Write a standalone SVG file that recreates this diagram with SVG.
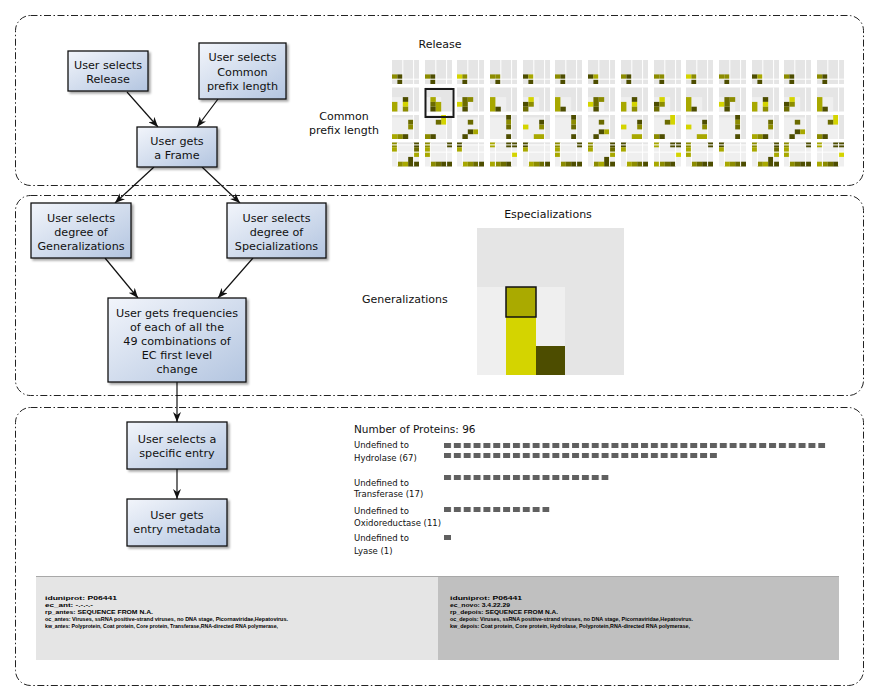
<svg xmlns="http://www.w3.org/2000/svg" xmlns:xlink="http://www.w3.org/1999/xlink" width="879" height="700" viewBox="0 0 879 700">
<style>
.frame{fill:none;stroke:#222;stroke-width:1;stroke-dasharray:7 2.5 1.5 2.5}
.node rect{fill:url(#ng);stroke:#111;stroke-width:1.3;filter:url(#sh)}
.node text{font-family:"DejaVu Sans",sans-serif;font-size:11.2px;fill:#111;text-anchor:middle}
.lbl{font-family:"DejaVu Sans",sans-serif;font-size:11px;fill:#111}
.sm{font-family:"DejaVu Sans",sans-serif;font-size:8.5px;fill:#111}
.meta{font-family:"Liberation Sans",sans-serif;font-size:6px;font-weight:bold;fill:#000}
.conn path{fill:none;stroke:#111;stroke-width:1.2;marker-end:url(#ah)}
.Y{fill:#d4d400}.O{fill:#a8a800}.M{fill:#8c8c00}.D{fill:#4d4d00}.E{fill:#6b6b00}
.wl{stroke:#fff;stroke-width:1;fill:none}
</style>
<defs>
<linearGradient id="ng" x1="0" y1="0" x2="1" y2="1">
<stop offset="0" stop-color="#f2f5fb"/><stop offset="1" stop-color="#b3c5e0"/>
</linearGradient>
<filter id="sh" x="-10%" y="-10%" width="130%" height="130%">
<feDropShadow dx="2" dy="2" stdDeviation="1.2" flood-color="#000" flood-opacity="0.35"/>
</filter>
<marker id="ah" viewBox="0 0 10 8" refX="10" refY="4" markerWidth="10" markerHeight="8" markerUnits="userSpaceOnUse" orient="auto">
<path d="M0,0 L10,4 L0,8 L3,4 z" fill="#111"/>
</marker>
<pattern id="sq" x="444" y="0" width="9.85" height="700" patternUnits="userSpaceOnUse">
<rect width="7" height="700" fill="#606060"/>
</pattern>
<g id="bA"><rect width="27" height="24" fill="#e5e5e5"/></g>
<path id="lA" class="wl" d="M10.8,0V24M21.6,0V24M0,19.2H27"/>
<g id="bB"><rect width="27" height="24" fill="#e5e5e5"/><rect y="9.6" width="16.2" height="14.4" fill="#efefef"/></g>
<path id="lB" class="wl" d="M21.6,0V24"/>
<g id="bC"><rect width="27" height="24" fill="#efefef"/><rect width="27" height="2.4" fill="#e5e5e5"/><rect x="21.6" width="5.4" height="24" fill="#e5e5e5"/></g>
<path id="lC" class="wl" d="M21.6,0V24"/>
<g id="bD"><rect width="27" height="24" fill="#efefef"/><rect width="27" height="2.4" fill="#e5e5e5"/></g>
<path id="lD" class="wl" d="M0,2.4H27M0,9.6H27M5.4,0V24M21.6,0V24"/>

<g id="a1"><use href="#bA"/><g transform="scale(5.4 4.8)"><rect class="M" x="0" y="3" width="1" height="1"/><rect class="D" x="1" y="3" width="1" height="1"/><rect class="D" x="1" y="4" width="1" height="1"/></g><use href="#lA"/></g>
<g id="a2"><use href="#bA"/><g transform="scale(5.4 4.8)"><rect class="D" x="0" y="3" width="1" height="1"/><rect class="O" x="1" y="3" width="1" height="1"/><rect class="D" x="1" y="4" width="1" height="1"/></g><use href="#lA"/></g>
<g id="a3"><use href="#bA"/><g transform="scale(5.4 4.8)"><rect class="Y" x="0" y="3" width="1" height="1"/><rect class="M" x="1" y="3" width="1" height="1"/><rect class="D" x="1" y="4" width="1" height="1"/></g><use href="#lA"/></g>
<g id="a4"><use href="#bA"/><g transform="scale(5.4 4.8)"><rect class="M" x="0" y="3" width="1" height="1"/><rect class="M" x="1" y="3" width="1" height="1"/><rect class="D" x="1" y="4" width="1" height="1"/></g><use href="#lA"/></g>

<g id="b1"><use href="#bB"/><g transform="scale(5.4 4.8)"><rect class="O" x="0" y="3" width="1" height="2"/><rect class="D" x="2" y="2" width="1" height="1"/><rect class="Y" x="2" y="3" width="1" height="1"/><rect class="M" x="2" y="4" width="1" height="1"/></g><use href="#lB"/></g>
<g id="b2"><use href="#bB"/><g transform="scale(5.4 4.8)"><rect class="O" x="1" y="2" width="1" height="1"/><rect class="E" x="1" y="3" width="1" height="1"/><rect class="D" x="1" y="4" width="1" height="1"/><rect class="O" x="2" y="3" width="1" height="2"/></g></g>
<g id="b3"><use href="#bB"/><g transform="scale(5.4 4.8)"><rect class="D" x="0" y="3" width="1" height="1"/><rect class="E" x="0" y="4" width="1" height="1"/><rect class="Y" x="1" y="2" width="1" height="1"/><rect class="M" x="1" y="3" width="1" height="1"/></g><use href="#lB"/></g>
<g id="b4"><use href="#bB"/><g transform="scale(5.4 4.8)"><rect class="O" x="0" y="2" width="1" height="3"/><rect class="D" x="1" y="4" width="1" height="1"/></g><use href="#lB"/></g>
<g id="b5"><use href="#bB"/><g transform="scale(5.4 4.8)"><rect class="Y" x="0" y="3" width="1" height="1"/><rect class="E" x="1" y="2" width="1" height="2"/><rect class="D" x="1" y="4" width="1" height="1"/><rect class="M" x="2" y="2" width="1" height="1"/></g><use href="#lB"/></g>

<g id="c1"><use href="#bC"/><g transform="scale(5.4 4.8)"><rect class="E" x="3" y="1" width="1" height="1"/><rect class="M" x="3" y="2" width="1" height="1"/><rect class="O" x="0" y="4" width="1" height="1"/><rect class="M" x="1" y="4" width="1" height="1"/><rect class="D" x="2" y="4" width="1" height="1"/></g><use href="#lC"/></g>
<g id="c2"><use href="#bC"/><g transform="scale(5.4 4.8)"><rect class="Y" x="3" y="0" width="1" height="2"/><rect class="E" x="2" y="1" width="1" height="1"/><rect class="M" x="0" y="4" width="1" height="1"/><rect class="D" x="1" y="4" width="1" height="1"/></g><use href="#lC"/></g>
<g id="c3"><use href="#bC"/><g transform="scale(5.4 4.8)"><rect class="E" x="2" y="1" width="1" height="1"/><rect class="D" x="2" y="3" width="1" height="1"/><rect class="O" x="3" y="3" width="1" height="1"/><rect class="D" x="1" y="4" width="1" height="1"/></g><use href="#lC"/></g>
<g id="c4"><use href="#bC"/><g transform="scale(5.4 4.8)"><rect class="D" x="3" y="0" width="1" height="1"/><rect class="M" x="3" y="1" width="1" height="1"/><rect class="E" x="3" y="2" width="1" height="1"/><rect class="D" x="3" y="4" width="1" height="1"/></g><use href="#lC"/></g>
<g id="c5"><use href="#bC"/><g transform="scale(5.4 4.8)"><rect class="Y" x="0" y="2" width="1" height="1"/><rect class="D" x="3" y="1" width="1" height="1"/><rect class="M" x="3" y="2" width="1" height="1"/><rect class="O" x="2" y="4" width="2" height="1"/></g><use href="#lC"/></g>

<g id="d1"><use href="#bD"/><g transform="scale(5.4 4.8)"><rect class="M" x="0" y="0" width="1" height="1"/><rect class="O" x="0" y="1" width="1" height="1"/><rect class="D" x="4" y="0" width="1" height="1"/><rect class="E" x="4" y="1" width="1" height="1"/><rect class="O" x="4" y="2" width="1" height="1"/><rect class="M" x="1" y="4" width="1" height="1"/><rect class="O" x="2" y="4" width="1" height="1"/><rect class="D" x="3" y="3" width="1" height="2"/><rect class="D" x="4" y="4" width="1" height="1"/></g><use href="#lD"/></g>
<g id="d2"><use href="#bD"/><g transform="scale(5.4 4.8)"><rect class="M" x="0" y="0" width="1" height="1"/><rect class="O" x="0" y="1" width="1" height="2"/><rect class="D" x="4" y="0" width="1" height="1"/><rect class="M" x="1" y="4" width="1" height="1"/><rect class="E" x="2" y="4" width="1" height="1"/><rect class="D" x="3" y="4" width="2" height="1"/></g><use href="#lD"/></g>
<g id="d3"><use href="#bD"/><g transform="scale(5.4 4.8)"><rect class="D" x="0" y="0" width="1" height="1"/><rect class="O" x="0" y="1" width="1" height="1"/><rect class="O" x="1" y="4" width="1" height="1"/><rect class="M" x="2" y="4" width="1" height="1"/><rect class="E" x="3" y="4" width="1" height="1"/><rect class="D" x="4" y="4" width="1" height="1"/></g><use href="#lD"/></g>
<g id="d4"><use href="#bD"/><g transform="scale(5.4 4.8)"><rect class="O" x="0" y="0" width="1" height="1"/><rect class="D" x="3" y="0" width="2" height="1"/><rect class="Y" x="4" y="2" width="1" height="1"/><rect class="O" x="0" y="4" width="1" height="1"/><rect class="M" x="1" y="4" width="1" height="1"/><rect class="E" x="2" y="4" width="1" height="1"/><rect class="D" x="3" y="4" width="1" height="1"/></g><use href="#lD"/></g>
</defs>

<rect width="879" height="700" fill="#fff"/>

<g id="frames">
<rect class="frame" x="15.5" y="15.5" width="848" height="170" rx="15"/>
<rect class="frame" x="15.5" y="195.5" width="848" height="200" rx="15"/>
<rect class="frame" x="15.5" y="407.5" width="848" height="278" rx="15"/>
</g>

<g id="connectors" class="conn">
<path d="M127,92 L158,127"/>
<path d="M218,99 L197,127"/>
<path d="M154,167 L115,203"/>
<path d="M202,167 L240,203"/>
<path d="M105,258 L138,298"/>
<path d="M253,258 L218,298"/>
<path d="M177,382 L177,422"/>
<path d="M177,469 L177,499"/>
</g>

<g id="n-release" class="node"><rect x="68" y="51" width="80" height="40"/><text x="108" y="69">User selects</text><text x="108" y="83">Release</text></g>
<g id="n-prefix" class="node"><rect x="199" y="43" width="87" height="56"/><text x="242.5" y="61">User selects</text><text x="242.5" y="75.5">Common</text><text x="242.5" y="90">prefix length</text></g>
<g id="n-frame" class="node"><rect x="137" y="127" width="80" height="40"/><text x="177" y="145">User gets</text><text x="177" y="159">a Frame</text></g>
<g id="n-gen" class="node"><rect x="31" y="203" width="100" height="55"/><text x="81" y="222">User selects</text><text x="81" y="236">degree of</text><text x="81" y="250">Generalizations</text></g>
<g id="n-spec" class="node"><rect x="227" y="203" width="99" height="55"/><text x="276.5" y="222">User selects</text><text x="276.5" y="236">degree of</text><text x="276.5" y="250">Specializations</text></g>
<g id="n-freq" class="node"><rect x="108" y="298" width="138" height="84"/><text x="177" y="317">User gets frequencies</text><text x="177" y="331">of each of all the</text><text x="177" y="345">49 combinations of</text><text x="177" y="359">EC first level</text><text x="177" y="373">change</text></g>
<g id="n-entry" class="node"><rect x="127" y="422" width="100" height="47"/><text x="177" y="443">User selects a</text><text x="177" y="457">specific entry</text></g>
<g id="n-meta" class="node"><rect x="127" y="499" width="100" height="47"/><text x="177" y="519">User gets</text><text x="177" y="533">entry metadata</text></g>

<g id="release-grid">
<text class="lbl" x="440" y="48" text-anchor="middle">Release</text>
<text class="lbl" x="344" y="120" text-anchor="middle">Common</text>
<text class="lbl" x="344" y="134" text-anchor="middle">prefix length</text>
<use href="#a1" x="392" y="60"/><use href="#a1" x="425" y="60"/><use href="#a3" x="457" y="60"/><use href="#a4" x="490" y="60"/><use href="#a2" x="523" y="60"/><use href="#a1" x="555" y="60"/><use href="#a2" x="588" y="60"/><use href="#a1" x="621" y="60"/><use href="#a4" x="654" y="60"/><use href="#a3" x="686" y="60"/><use href="#a4" x="719" y="60"/><use href="#a2" x="752" y="60"/><use href="#a1" x="784" y="60"/><use href="#a1" x="817" y="60"/>
<use href="#b1" x="392" y="87.5"/><use href="#b2" x="425" y="87.5"/><use href="#b5" x="457" y="87.5"/><use href="#b4" x="490" y="87.5"/><use href="#b3" x="523" y="87.5"/><use href="#b4" x="555" y="87.5"/><use href="#b5" x="588" y="87.5"/><use href="#b1" x="621" y="87.5"/><use href="#b3" x="654" y="87.5"/><use href="#b4" x="686" y="87.5"/><use href="#b5" x="719" y="87.5"/><use href="#b1" x="752" y="87.5"/><use href="#b3" x="784" y="87.5"/><use href="#b4" x="817" y="87.5"/>
<use href="#c1" x="392" y="115"/><use href="#c2" x="425" y="115"/><use href="#c3" x="457" y="115"/><use href="#c4" x="490" y="115"/><use href="#c5" x="523" y="115"/><use href="#c4" x="555" y="115"/><use href="#c3" x="588" y="115"/><use href="#c5" x="621" y="115"/><use href="#c2" x="654" y="115"/><use href="#c5" x="686" y="115"/><use href="#c4" x="719" y="115"/><use href="#c1" x="752" y="115"/><use href="#c3" x="784" y="115"/><use href="#c2" x="817" y="115"/>
<use href="#d1" x="392" y="142.5"/><use href="#d2" x="425" y="142.5"/><use href="#d3" x="457" y="142.5"/><use href="#d4" x="490" y="142.5"/><use href="#d3" x="523" y="142.5"/><use href="#d2" x="555" y="142.5"/><use href="#d1" x="588" y="142.5"/><use href="#d3" x="621" y="142.5"/><use href="#d4" x="654" y="142.5"/><use href="#d2" x="686" y="142.5"/><use href="#d3" x="719" y="142.5"/><use href="#d1" x="752" y="142.5"/><use href="#d2" x="784" y="142.5"/><use href="#d4" x="817" y="142.5"/>
<rect x="425.5" y="89" width="28" height="28" fill="none" stroke="#1a1a1a" stroke-width="2"/>
</g>

<g id="frame-matrix">
<text class="lbl" x="548" y="218" text-anchor="middle">Especializations</text>
<text class="lbl" x="362" y="303">Generalizations</text>
<rect x="477" y="228" width="147" height="147" fill="#e5e5e5"/>
<rect x="477" y="287" width="88" height="88" fill="#efefef"/>
<rect x="506" y="317" width="30" height="58" fill="#d4d400"/>
<rect x="536" y="346" width="29" height="29" fill="#4d4d00"/>
<rect x="506" y="287" width="30" height="30" fill="#aaaa00" stroke="#111" stroke-width="1.5"/>
</g>

<g id="protein-chart">
<text x="354" y="433" font-family="DejaVu Sans, sans-serif" font-size="10.5" fill="#111">Number of Proteins: 96</text>
<text class="sm" x="354" y="448">Undefined to</text>
<text class="sm" x="354" y="461">Hydrolase (67)</text>
<text class="sm" x="354" y="486">Undefined to</text>
<text class="sm" x="354" y="497">Transferase (17)</text>
<text class="sm" x="354" y="514">Undefined to</text>
<text class="sm" x="354" y="526">Oxidoreductase (11)</text>
<text class="sm" x="354" y="541">Undefined to</text>
<text class="sm" x="354" y="554">Lyase (1)</text>
<rect x="444" y="443" width="381.3" height="5" fill="url(#sq)"/>
<rect x="444" y="453" width="273" height="5" fill="url(#sq)"/>
<rect x="444" y="475" width="164.6" height="5" fill="url(#sq)"/>
<rect x="444" y="507" width="105.5" height="5" fill="url(#sq)"/>
<rect x="444" y="535" width="7" height="5" fill="#606060"/>
</g>

<g id="metadata">
<rect x="36" y="576" width="402" height="84" fill="#e5e5e5"/>
<rect x="438" y="576" width="401" height="84" fill="#c0c0c0"/>
<line x1="36" y1="576.5" x2="839" y2="576.5" stroke="#a8a8a8" stroke-width="1"/>
<text class="meta" x="45" y="599.5" textLength="72" lengthAdjust="spacingAndGlyphs">iduniprot: P06441</text>
<text class="meta" x="45" y="606.5" textLength="48" lengthAdjust="spacingAndGlyphs">ec_ant: -.-.-.-</text>
<text class="meta" x="45" y="613.5" textLength="108" lengthAdjust="spacingAndGlyphs">rp_antes: SEQUENCE FROM N.A.</text>
<text class="meta" x="45" y="620.5" textLength="243" lengthAdjust="spacingAndGlyphs">oc_antes: Viruses, ssRNA positive-strand viruses, no DNA stage, Picornaviridae,Hepatovirus.</text>
<text class="meta" x="45" y="627.5" textLength="233" lengthAdjust="spacingAndGlyphs">kw_antes: Polyprotein, Coat protein, Core protein, Transferase,RNA-directed RNA polymerase,</text>
<text class="meta" x="450" y="599.5" textLength="72" lengthAdjust="spacingAndGlyphs">iduniprot: P06441</text>
<text class="meta" x="450" y="606.5" textLength="60" lengthAdjust="spacingAndGlyphs">ec_novo: 3.4.22.29</text>
<text class="meta" x="450" y="613.5" textLength="108" lengthAdjust="spacingAndGlyphs">rp_depois: SEQUENCE FROM N.A.</text>
<text class="meta" x="450" y="620.5" textLength="243" lengthAdjust="spacingAndGlyphs">oc_depois: Viruses, ssRNA positive-strand viruses, no DNA stage, Picornaviridae,Hepatovirus.</text>
<text class="meta" x="450" y="627.5" textLength="240" lengthAdjust="spacingAndGlyphs">kw_depois: Coat protein, Core protein, Hydrolase, Polyprotein,RNA-directed RNA polymerase,</text>
</g>
</svg>
